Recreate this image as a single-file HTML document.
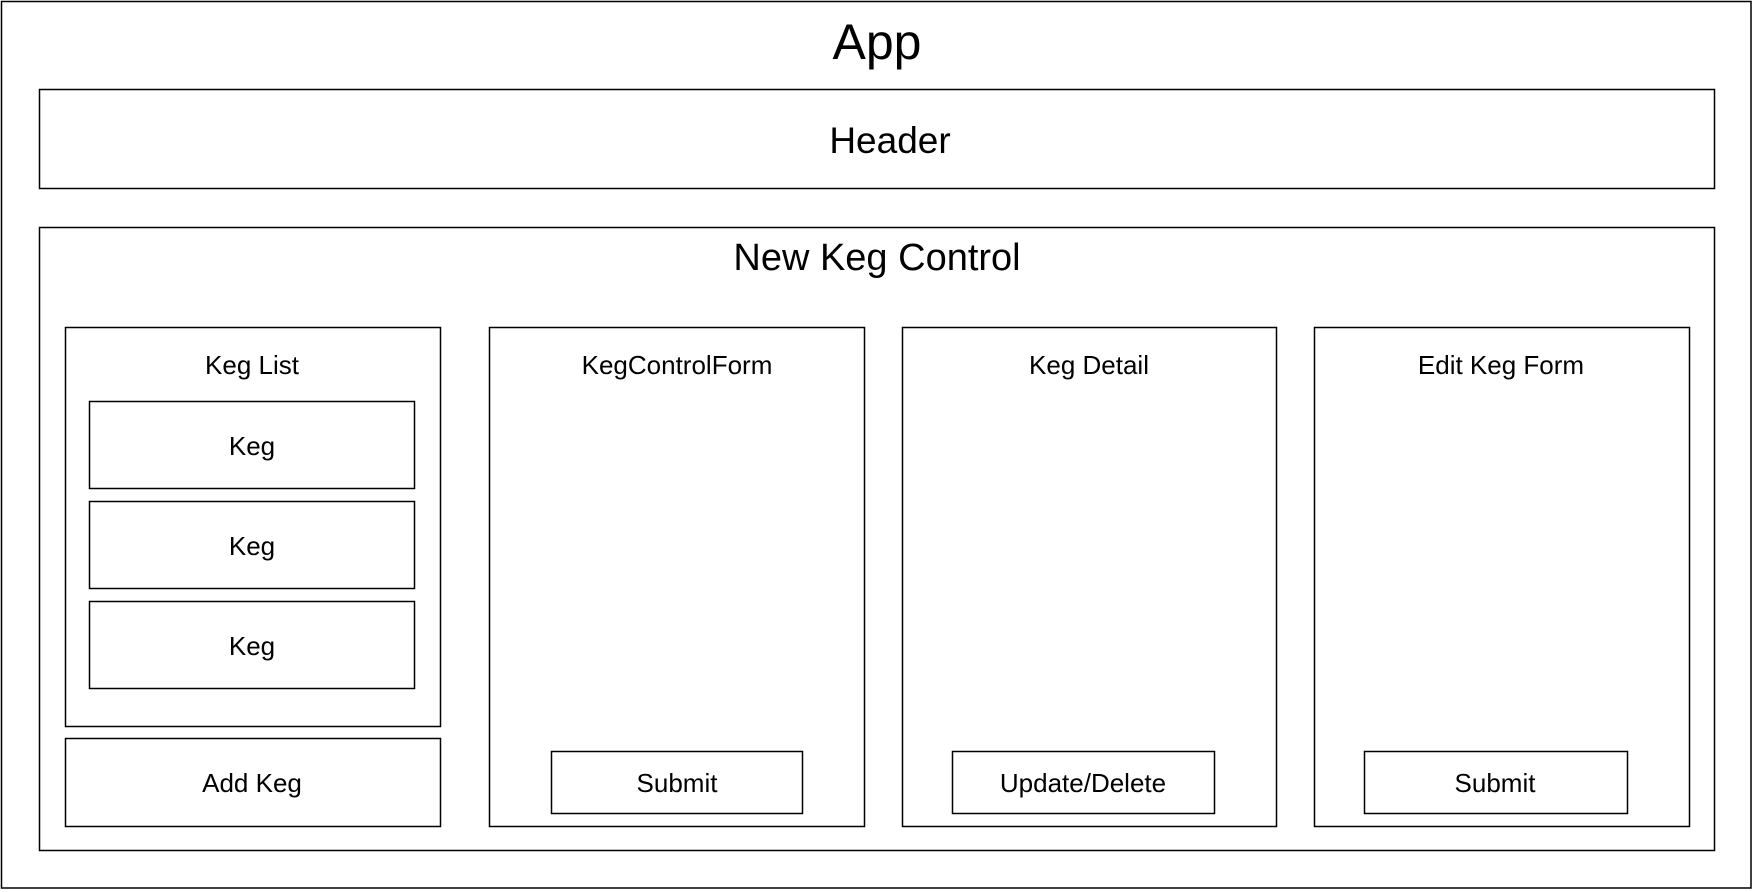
<!DOCTYPE html>
<html><head><meta charset="utf-8"><style>html,body{margin:0;padding:0;background:#fff}svg{display:block}</style></head>
<body>
<svg width="1754" height="892" viewBox="0 0 1754 892" xmlns="http://www.w3.org/2000/svg" font-family="Liberation Sans, Arial, sans-serif" fill="none" stroke="#000" stroke-width="1.5">
<rect x="1.5" y="1.5" width="1749.5" height="886.5"/>
<rect x="39.5" y="89.5" width="1675" height="99"/>
<rect x="39.5" y="227.5" width="1675" height="623"/>
<rect x="65.5" y="327.5" width="375" height="399"/>
<rect x="89.5" y="401.5" width="325" height="87"/>
<rect x="89.5" y="501.5" width="325" height="87"/>
<rect x="89.5" y="601.5" width="325" height="87"/>
<rect x="65.5" y="738.5" width="375" height="88"/>
<rect x="489.5" y="327.5" width="375" height="499"/>
<rect x="551.5" y="751.5" width="251" height="62"/>
<rect x="902.5" y="327.5" width="374" height="499"/>
<rect x="952.5" y="751.5" width="262" height="62"/>
<rect x="1314.5" y="327.5" width="375" height="499"/>
<rect x="1364.5" y="751.5" width="263" height="62"/>
<g fill="#000" stroke="none" text-anchor="middle">
<text x="877" y="59" font-size="50">App</text>
<text x="890" y="153" font-size="37">Header</text>
<text x="877" y="270" font-size="38">New Keg Control</text>
<g font-size="26">
<text x="252" y="374">Keg List</text>
<text x="677" y="374">KegControlForm</text>
<text x="1089" y="374">Keg Detail</text>
<text x="1501" y="374">Edit Keg Form</text>
<text x="252" y="455">Keg</text>
<text x="252" y="555">Keg</text>
<text x="252" y="655">Keg</text>
<text x="252" y="792">Add Keg</text>
<text x="677" y="792">Submit</text>
<text x="1083" y="792">Update/Delete</text>
<text x="1495" y="792">Submit</text>
</g>
</g>
</svg>
</body></html>
